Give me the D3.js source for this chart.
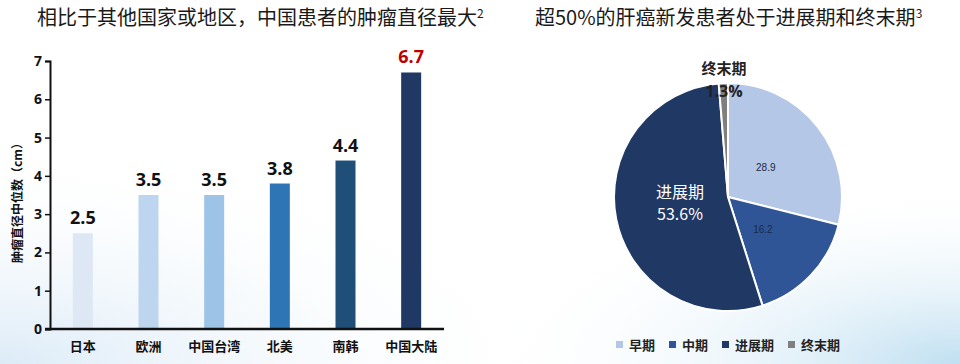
<!DOCTYPE html>
<html>
<head>
<meta charset="utf-8">
<script src="https://cdn.jsdelivr.net/npm/d3@7"></script>
<style>
  body { margin: 0; padding: 0; }
  svg { display: block; font-family: "Noto Sans CJK SC", "Noto Sans", sans-serif; }
</style>
</head>
<body>
<svg id="chart" width="960" height="364"></svg>
<script>
// bar chart data
var regions = ["日本", "欧洲", "中国台湾", "北美", "南韩", "中国大陆"];
var medianSize = [2.5, 3.5, 3.5, 3.8, 4.4, 6.7];
var barColors = ["#dde8f4", "#bdd5ee", "#9dc3e6", "#2e75b6", "#1f4e79", "#203864"];
var yTicks = [0, 1, 2, 3, 4, 5, 6, 7];

// pie chart data
var stages = ["早期", "中期", "进展期", "终末期"];
var stageShare = [28.9, 16.2, 53.6, 1.3];
var stageColors = ["#b4c7e7", "#2f5597", "#203864", "#7f7f7f"];

var svg = d3.select("#chart");

// background
var defs = svg.append("defs");
var g1 = defs.append("radialGradient").attr("id", "bgL")
  .attr("cx", "0%").attr("cy", "100%").attr("r", "60%");
g1.append("stop").attr("offset", "0%").attr("stop-color", "#dcebf7");
g1.append("stop").attr("offset", "100%").attr("stop-color", "#ffffff").attr("stop-opacity", 0);
var g2 = defs.append("radialGradient").attr("id", "bgR")
  .attr("cx", "100%").attr("cy", "100%").attr("r", "50%");
g2.append("stop").attr("offset", "0%").attr("stop-color", "#bfdff1");
g2.append("stop").attr("offset", "100%").attr("stop-color", "#ffffff").attr("stop-opacity", 0);
svg.append("rect").attr("width", 960).attr("height", 364).attr("fill", "#ffffff");
svg.append("rect").attr("width", 960).attr("height", 364).attr("fill", "url(#bgL)");
svg.append("rect").attr("width", 960).attr("height", 364).attr("fill", "url(#bgR)");

// titles
var t1 = svg.append("text").attr("x", 37).attr("y", 25)
  .attr("font-size", 20).attr("fill", "#1a1a1a")
  .text("相比于其他国家或地区，中国患者的肿瘤直径最大");
t1.append("tspan").attr("font-size", 12).attr("dy", -7).text("2");

var t2 = svg.append("text").attr("x", 535).attr("y", 25)
  .attr("font-size", 20).attr("fill", "#1a1a1a")
  .text("超50%的肝癌新发患者处于进展期和终末期");
t2.append("tspan").attr("font-size", 12).attr("dy", -7).text("3");

// ---- bar chart ----
var x = d3.scaleBand().domain(regions).range([50, 444]).padding(0);
var y = d3.scaleLinear().domain([0, 7]).range([329, 61]);
var barW = 20;

var bars = regions.map(function(r, i) { return {region: r, value: medianSize[i], color: barColors[i]}; });

svg.selectAll("rect.bar")
  .data(bars)
  .enter()
  .append("rect")
  .attr("class", "bar")
  .attr("x", function(d) { return x(d.region) + x.bandwidth() / 2 - barW / 2; })
  .attr("y", function(d) { return y(d.value); })
  .attr("width", barW)
  .attr("height", function(d) { return y(0) - y(d.value); })
  .attr("fill", function(d) { return d.color; });

svg.selectAll("text.val")
  .data(bars)
  .enter()
  .append("text")
  .attr("x", function(d) { return x(d.region) + x.bandwidth() / 2; })
  .attr("y", function(d) { return y(d.value) - 9; })
  .attr("text-anchor", "middle")
  .attr("font-size", 18)
  .attr("font-weight", "bold")
  .attr("font-family", "'Open Sans', 'Noto Sans', sans-serif")
  .attr("fill", function(d) { return d.value === 6.7 ? "#c00000" : "#111111"; })
  .text(function(d) { return d.value.toFixed(1); });

// y axis
var yAxis = svg.append("g")
  .attr("transform", "translate(50,0)")
  .call(d3.axisLeft(y).tickValues(yTicks).tickSize(5).tickFormat(d3.format("d")));
yAxis.select(".domain").attr("stroke", "#111").attr("stroke-width", 2);
yAxis.selectAll(".tick line").attr("stroke", "#111").attr("stroke-width", 1.5);
yAxis.selectAll(".tick text")
  .attr("font-size", 14).attr("font-weight", "bold").attr("fill", "#111")
  .attr("font-family", "'Open Sans', 'Noto Sans', sans-serif")
  .attr("x", -8);

// x axis
var xAxis = svg.append("g")
  .attr("transform", "translate(0,329)")
  .call(d3.axisBottom(x).tickSize(0).tickPadding(13));
xAxis.select(".domain").attr("d", "M45,0H444").attr("stroke", "#111").attr("stroke-width", 2.5);
xAxis.selectAll(".tick text")
  .attr("font-size", 13).attr("font-weight", "bold").attr("fill", "#111")
  .attr("font-family", "'Noto Sans CJK SC', sans-serif");

svg.append("text")
  .attr("transform", "translate(22,200) rotate(-90)")
  .attr("text-anchor", "middle")
  .attr("font-size", 12).attr("font-weight", "bold").attr("fill", "#111")
  .text("肿瘤直径中位数（cm）");

// ---- pie chart ----
var cx = 728, cy = 197, radius = 114;
var slices = stages.map(function(s, i) { return {stage: s, value: stageShare[i], color: stageColors[i]}; });
var pie = d3.pie().value(function(d) { return d.value; }).sort(null);
var arc = d3.arc().innerRadius(0).outerRadius(radius);
var arcs = pie(slices);

var pg = svg.append("g").attr("transform", "translate(" + cx + "," + cy + ")");
pg.selectAll("path")
  .data(arcs)
  .enter()
  .append("path")
  .attr("d", arc)
  .attr("fill", function(d) { return d.data.color; })
  .attr("stroke", "#ffffff")
  .attr("stroke-width", 2);

// small value labels
var small = d3.arc().innerRadius(radius * 0.42).outerRadius(radius * 0.42);
pg.selectAll("text.small")
  .data(arcs.slice(0, 2))
  .enter()
  .append("text")
  .attr("class", "small")
  .attr("transform", function(d) { var c = small.centroid(d); return "translate(" + c[0] + "," + (c[1] + 3) + ")"; })
  .attr("text-anchor", "middle")
  .attr("font-size", 10)
  .attr("font-family", "'Liberation Sans', Arial, sans-serif")
  .attr("fill", "#1a2a44")
  .text(function(d) { return d.data.value.toFixed(1); });

// 进展期 label
var adv = arcs[2];
var advLabel = pg.append("text")
  .attr("text-anchor", "middle")
  .attr("fill", "#ffffff")
  .attr("font-size", 16);
advLabel.append("tspan").attr("x", -48).attr("y", 1).text(adv.data.stage);
advLabel.append("tspan").attr("x", -48).attr("y", 23).text(adv.data.value.toFixed(1) + "%");

// 终末期 label above the pie
var end = arcs[3];
pg.append("text")
  .attr("x", -4).attr("y", -radius - 9)
  .attr("text-anchor", "middle")
  .attr("fill", "#222")
  .attr("font-size", 15)
  .attr("font-weight", "bold")
  .text(end.data.stage);
pg.append("text")
  .attr("x", -4).attr("y", -radius + 14)
  .attr("text-anchor", "middle")
  .attr("fill", "#222")
  .attr("font-size", 16)
  .attr("font-weight", "bold")
  .attr("font-family", "'Open Sans', 'Noto Sans', sans-serif")
  .text(end.data.value.toFixed(1) + "%");

// legend
var legendX = [616, 669, 722, 788];
var lg = svg.append("g").attr("transform", "translate(0,345)");
var items = lg.selectAll("g.item")
  .data(slices)
  .enter()
  .append("g")
  .attr("transform", function(d, i) { return "translate(" + legendX[i] + ",0)"; });
items.append("rect").attr("x", 0).attr("y", -4).attr("width", 7).attr("height", 7)
  .attr("fill", function(d) { return d.color; });
items.append("text").attr("x", 13).attr("y", 4.5)
  .attr("font-size", 13).attr("font-weight", "bold").attr("fill", "#222")
  .text(function(d) { return d.stage; });
</script>
</body>
</html>
